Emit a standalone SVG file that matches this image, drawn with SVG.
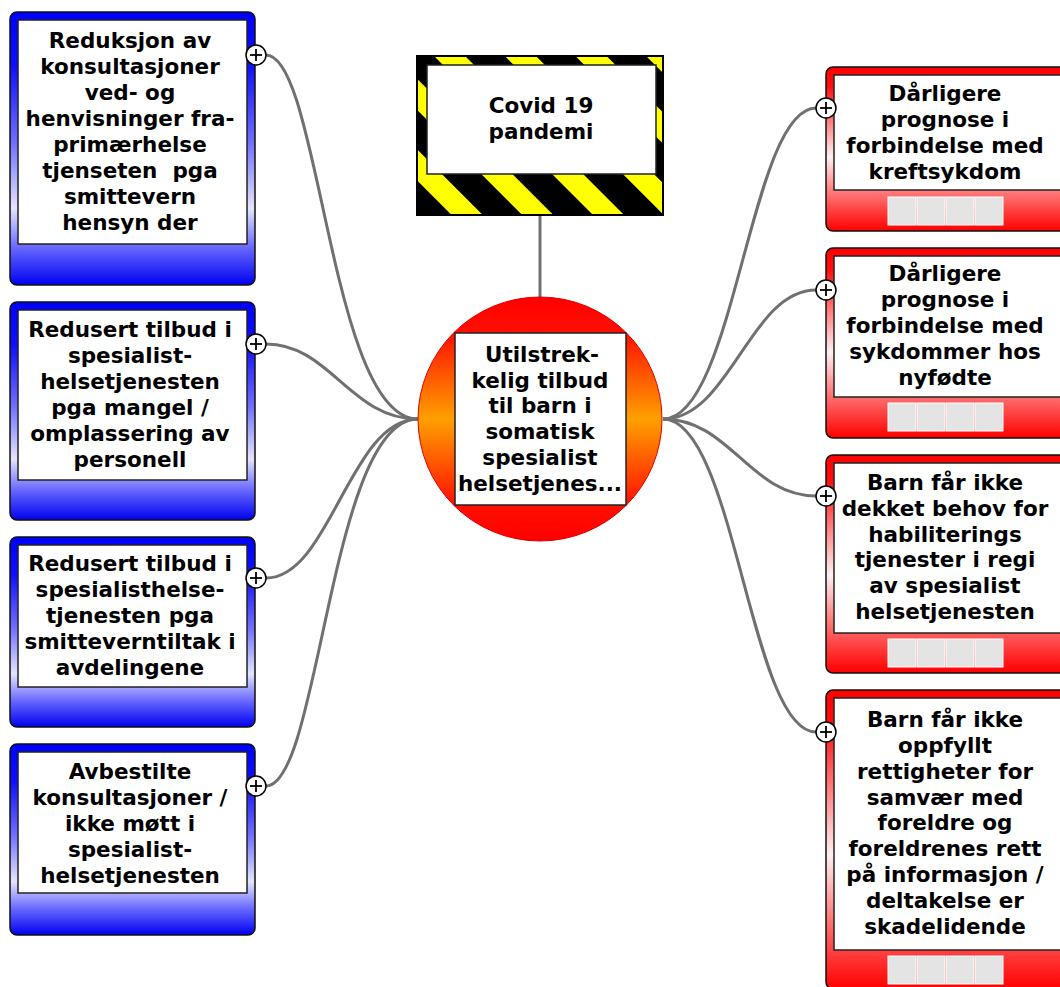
<svg xmlns="http://www.w3.org/2000/svg" width="1060" height="987" viewBox="0 0 1060 987">
  <style>
    .txt { font-family: "DejaVu Sans", Verdana, sans-serif; font-weight: bold; font-size: 21.5px; fill: #000; text-anchor: middle; white-space: pre; }
    .frame { stroke: #111; stroke-width: 1.5; }
    .panel { fill: #fff; stroke: #222; stroke-width: 1.5; }
    .link { fill: none; stroke: #707070; stroke-width: 3; }
    .tick { fill: #e4e4e4; stroke: #fff; stroke-width: 1; }
    .plus-c { fill: #fff; stroke: #000; stroke-width: 1.5; }
    .plus-l { stroke: #000; stroke-width: 1.8; }
  </style>
  <defs>
    <linearGradient id="blueFill" x1="0" y1="0" x2="0" y2="1">
      <stop offset="0" stop-color="#0000ff"/>
      <stop offset="0.2" stop-color="#1010ff"/>
      <stop offset="0.48" stop-color="#7070ff"/>
      <stop offset="0.72" stop-color="#e4e4ff"/>
      <stop offset="0.86" stop-color="#6a6aff"/>
      <stop offset="1" stop-color="#0000f0"/>
    </linearGradient>
    <linearGradient id="redFill" x1="0" y1="0" x2="0" y2="1">
      <stop offset="0" stop-color="#ff0000"/>
      <stop offset="0.12" stop-color="#ff1010"/>
      <stop offset="0.55" stop-color="#fff0f0"/>
      <stop offset="0.75" stop-color="#ff8080"/>
      <stop offset="1" stop-color="#ff0000"/>
    </linearGradient>
    <linearGradient id="orbFill" x1="0" y1="0" x2="0" y2="1">
      <stop offset="0" stop-color="#ff0000"/>
      <stop offset="0.15" stop-color="#ff1000"/>
      <stop offset="0.5" stop-color="#ffa000"/>
      <stop offset="0.85" stop-color="#ff1000"/>
      <stop offset="1" stop-color="#ff0000"/>
    </linearGradient>
    <!-- diagonal warning stripes -->
    <pattern id="hazard" patternUnits="userSpaceOnUse" width="50" height="50" patternTransform="translate(434 56) rotate(-45)">
      <rect x="0" y="0" width="22" height="50" fill="#ffff00"/>
      <rect x="22" y="0" width="28" height="50" fill="#000"/>
    </pattern>
    <g id="plus">
      <circle r="10" class="plus-c"/>
      <line x1="-6" y1="0" x2="6" y2="0" class="plus-l"/>
      <line x1="0" y1="-6" x2="0" y2="6" class="plus-l"/>
    </g>
    <g id="ticks">
      <rect x="0" y="0" width="28" height="28" class="tick"/>
      <rect x="29" y="0" width="28" height="28" class="tick"/>
      <rect x="58" y="0" width="28" height="28" class="tick"/>
      <rect x="87" y="0" width="28" height="28" class="tick"/>
    </g>
  </defs>

  <rect width="1060" height="987" fill="#fff"/>

  <!-- connectors -->
  <g id="connectors">
    <line x1="540" y1="215" x2="540" y2="298" class="link"/>
    <path class="link" d="M266,55 C320,55 330,419 418,419"/>
    <path class="link" d="M266,344 C330,344 350,419 418,419"/>
    <path class="link" d="M266,578 C330,578 350,419 418,419"/>
    <path class="link" d="M266,786 C320,786 330,419 418,419"/>
    <path class="link" d="M663,419 C735,419 750,108 816,108"/>
    <path class="link" d="M663,419 C730,419 750,290 816,290"/>
    <path class="link" d="M663,419 C730,419 750,496 816,496"/>
    <path class="link" d="M663,419 C735,419 750,732 816,732"/>
  </g>

  <!-- trigger sign -->
  <g id="covid">
    <rect x="417" y="56" width="246" height="159" fill="url(#hazard)" stroke="#000" stroke-width="2"/>
    <rect x="427" y="65" width="229" height="109" class="panel"/>
    <text class="txt" x="541" y="113">Covid 19</text>
    <text class="txt" x="541" y="139">pandemi</text>
  </g>

  <!-- central problem -->
  <g id="center">
    <circle cx="540" cy="419" r="122" fill="url(#orbFill)" stroke="#e00000" stroke-width="1"/>
    <rect x="455" y="333" width="171" height="172" class="panel"/>
    <text class="txt" x="542" y="362">Utilstrek-</text>
    <text class="txt" x="540" y="388">kelig tilbud</text>
    <text class="txt" x="540" y="413">til barn i</text>
    <text class="txt" x="540" y="439">somatisk</text>
    <text class="txt" x="540" y="465">spesialist</text>
    <text class="txt" x="540" y="491">helsetjenes...</text>
  </g>

  <!-- causes (left) -->
  <g id="cause1">
    <rect x="10" y="12" width="245" height="273" rx="7" fill="url(#blueFill)" class="frame"/>
    <rect x="18" y="20" width="229" height="224" class="panel"/>
    <text class="txt" x="130" y="48">Reduksjon av</text>
    <text class="txt" x="130" y="74">konsultasjoner</text>
    <text class="txt" x="130" y="100">ved- og</text>
    <text class="txt" x="130" y="126">henvisninger fra-</text>
    <text class="txt" x="130" y="152">primærhelse</text>
    <text class="txt" x="130" y="178" xml:space="preserve">tjenseten  pga</text>
    <text class="txt" x="130" y="204">smittevern</text>
    <text class="txt" x="130" y="230">hensyn der</text>
    <use href="#plus" x="256" y="55"/>
  </g>
  <g id="cause2">
    <rect x="10" y="302" width="245" height="218" rx="7" fill="url(#blueFill)" class="frame"/>
    <rect x="18" y="310" width="229" height="170" class="panel"/>
    <text class="txt" x="130" y="337">Redusert tilbud i</text>
    <text class="txt" x="130" y="363">spesialist-</text>
    <text class="txt" x="130" y="389">helsetjenesten</text>
    <text class="txt" x="130" y="415">pga mangel /</text>
    <text class="txt" x="130" y="441">omplassering av</text>
    <text class="txt" x="130" y="467">personell</text>
    <use href="#plus" x="256" y="344"/>
  </g>
  <g id="cause3">
    <rect x="10" y="537" width="245" height="190" rx="7" fill="url(#blueFill)" class="frame"/>
    <rect x="18" y="545" width="229" height="142" class="panel"/>
    <text class="txt" x="130" y="571">Redusert tilbud i</text>
    <text class="txt" x="130" y="597">spesialisthelse-</text>
    <text class="txt" x="130" y="623">tjenesten pga</text>
    <text class="txt" x="130" y="649">smitteverntiltak i</text>
    <text class="txt" x="130" y="675">avdelingene</text>
    <use href="#plus" x="256" y="578"/>
  </g>
  <g id="cause4">
    <rect x="10" y="744" width="245" height="191" rx="7" fill="url(#blueFill)" class="frame"/>
    <rect x="18" y="752" width="229" height="141" class="panel"/>
    <text class="txt" x="130" y="779">Avbestilte</text>
    <text class="txt" x="130" y="805">konsultasjoner /</text>
    <text class="txt" x="130" y="831">ikke møtt i</text>
    <text class="txt" x="130" y="857">spesialist-</text>
    <text class="txt" x="130" y="883">helsetjenesten</text>
    <use href="#plus" x="256" y="786"/>
  </g>

  <!-- effects (right) -->
  <g id="effect1">
    <rect x="826" y="67" width="245" height="164" rx="7" fill="url(#redFill)" class="frame"/>
    <rect x="834" y="75" width="229" height="115" class="panel"/>
    <text class="txt" x="945" y="101">Dårligere</text>
    <text class="txt" x="945" y="127">prognose i</text>
    <text class="txt" x="945" y="153">forbindelse med</text>
    <text class="txt" x="945" y="179">kreftsykdom</text>
    <use href="#ticks" x="888" y="197"/>
    <use href="#plus" x="826" y="108"/>
  </g>
  <g id="effect2">
    <rect x="826" y="248" width="245" height="190" rx="7" fill="url(#redFill)" class="frame"/>
    <rect x="834" y="256" width="229" height="141" class="panel"/>
    <text class="txt" x="945" y="281">Dårligere</text>
    <text class="txt" x="945" y="307">prognose i</text>
    <text class="txt" x="945" y="333">forbindelse med</text>
    <text class="txt" x="945" y="359">sykdommer hos</text>
    <text class="txt" x="945" y="385">nyfødte</text>
    <use href="#ticks" x="888" y="403"/>
    <use href="#plus" x="826" y="290"/>
  </g>
  <g id="effect3">
    <rect x="826" y="455" width="245" height="218" rx="7" fill="url(#redFill)" class="frame"/>
    <rect x="834" y="463" width="229" height="170" class="panel"/>
    <text class="txt" x="945" y="490">Barn får ikke</text>
    <text class="txt" x="945" y="516">dekket behov for</text>
    <text class="txt" x="945" y="542">habiliterings</text>
    <text class="txt" x="945" y="567">tjenester i regi</text>
    <text class="txt" x="945" y="593">av spesialist</text>
    <text class="txt" x="945" y="619">helsetjenesten</text>
    <use href="#ticks" x="888" y="639"/>
    <use href="#plus" x="826" y="496"/>
  </g>
  <g id="effect4">
    <rect x="826" y="690" width="245" height="299" rx="7" fill="url(#redFill)" class="frame"/>
    <rect x="834" y="698" width="229" height="252" class="panel"/>
    <text class="txt" x="945" y="727">Barn får ikke</text>
    <text class="txt" x="945" y="753">oppfyllt</text>
    <text class="txt" x="945" y="779">rettigheter for</text>
    <text class="txt" x="945" y="805">samvær med</text>
    <text class="txt" x="945" y="830">foreldre og</text>
    <text class="txt" x="945" y="856">foreldrenes rett</text>
    <text class="txt" x="945" y="882">på informasjon /</text>
    <text class="txt" x="945" y="908">deltakelse er</text>
    <text class="txt" x="945" y="934">skadelidende</text>
    <use href="#ticks" x="888" y="956"/>
    <use href="#plus" x="826" y="732"/>
  </g>
</svg>
